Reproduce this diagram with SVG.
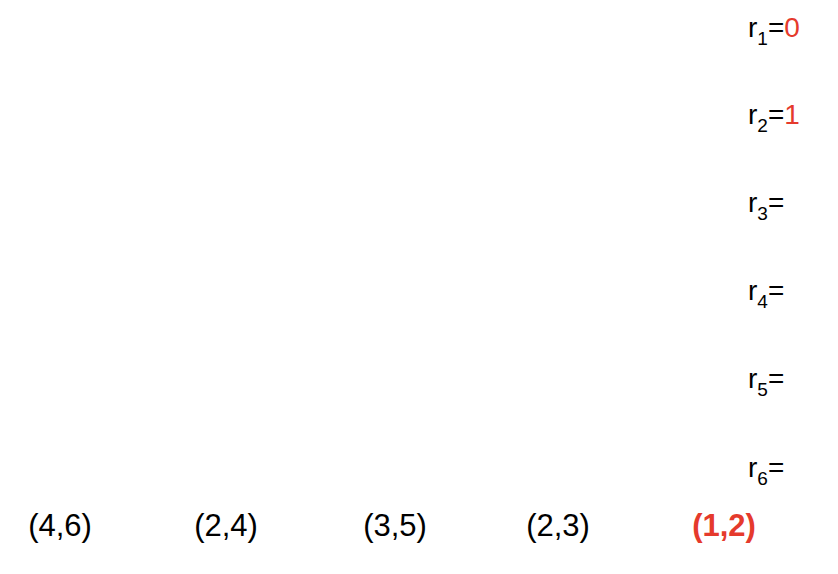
<svg xmlns="http://www.w3.org/2000/svg" width="838" height="574" viewBox="0 0 838 574">
<style>
.r{font-family:"Liberation Sans",Arial,sans-serif;font-size:28px;fill:#000}
.s{font-size:19px}
.p{font-family:"Liberation Sans",Arial,sans-serif;font-size:31px;fill:#000;text-anchor:middle}
.b{font-weight:bold}
.red{fill:#e53a2c}
</style>
<rect width="838" height="574" fill="#fff"/>
<g id="connectors"></g>
<g id="r1"><text class="r" x="748" y="37">r<tspan class="s" dy="8">1</tspan><tspan dy="-8">=</tspan><tspan class="red">0</tspan></text></g>
<g id="r2"><text class="r" x="748" y="124">r<tspan class="s" dy="8">2</tspan><tspan dy="-8">=</tspan><tspan class="red">1</tspan></text></g>
<g id="r3"><text class="r" x="748" y="212">r<tspan class="s" dy="8">3</tspan><tspan dy="-8">=</tspan></text></g>
<g id="r4"><text class="r" x="748" y="300">r<tspan class="s" dy="8">4</tspan><tspan dy="-8">=</tspan></text></g>
<g id="r5"><text class="r" x="748" y="388">r<tspan class="s" dy="8">5</tspan><tspan dy="-8">=</tspan></text></g>
<g id="r6"><text class="r" x="748" y="477">r<tspan class="s" dy="8">6</tspan><tspan dy="-8">=</tspan></text></g>
<g id="p46"><text class="p" x="60" y="536">(4,6)</text></g>
<g id="p24"><text class="p" x="226" y="536">(2,4)</text></g>
<g id="p35"><text class="p" x="395" y="536">(3,5)</text></g>
<g id="p23"><text class="p" x="558" y="536">(2,3)</text></g>
<g id="p12"><text class="p b red" x="724" y="536">(1,2)</text></g>
</svg>
